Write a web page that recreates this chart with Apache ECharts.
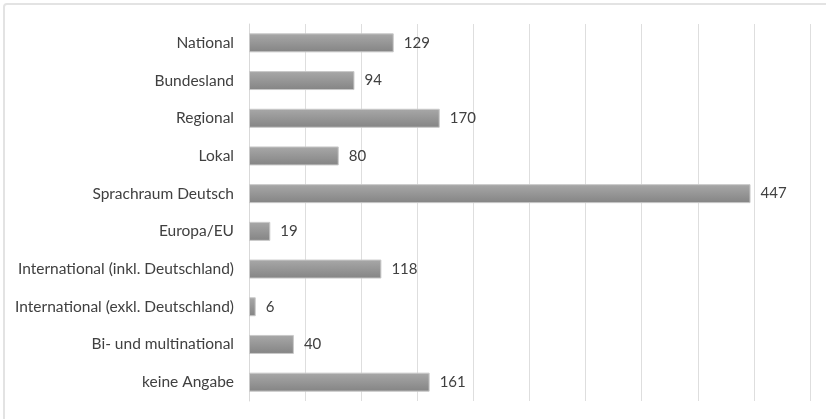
<!DOCTYPE html>
<html><head><meta charset="utf-8">
<script src="https://cdn.jsdelivr.net/npm/echarts@6/dist/echarts.min.js"></script>
<style>html,body{margin:0;padding:0;background:#fff;}#c{width:826px;height:419px;}</style>
</head><body><div id="c"></div>
<script>
const categories = ["National","Bundesland","Regional","Lokal","Sprachraum Deutsch","Europa/EU","International (inkl. Deutschland)","International (exkl. Deutschland)","Bi- und multinational","keine Angabe"];
const values = [129,94,170,80,447,19,118,6,40,161];
const chart = echarts.init(document.getElementById('c'), null, {renderer:'canvas'});
chart.setOption({
  animation:false,
  graphic:[{type:'rect',shape:{x:4,y:4,width:840,height:440,r:3},style:{fill:'none',stroke:'#e3e3e3',lineWidth:2},silent:true}],
  grid:{left:249,right:16,top:24,bottom:18,containLabel:false},
  xAxis:{type:'value',min:0,max:500,interval:50,axisLabel:{show:false},axisLine:{show:false},axisTick:{show:false},
    splitLine:{show:true,lineStyle:{color:'#dedede',width:1}}},
  yAxis:{type:'category',inverse:true,data:categories,axisTick:{show:false},
    axisLine:{show:true,lineStyle:{color:'#d9d9d9'}},
    axisLabel:{color:'#404040',fontFamily:'Lato',fontSize:15.5,margin:15}},
  series:[{type:'bar',data:values,barWidth:19,
    itemStyle:{color:new echarts.graphic.LinearGradient(0,0,0,1,[{offset:0,color:'#a8a8a8'},{offset:1,color:'#848484'}]),borderColor:'#c9c9c9',borderWidth:1},
    label:{show:true,position:'right',distance:10,color:'#404040',fontFamily:'Lato',fontSize:15}}]
});
</script></body></html>
